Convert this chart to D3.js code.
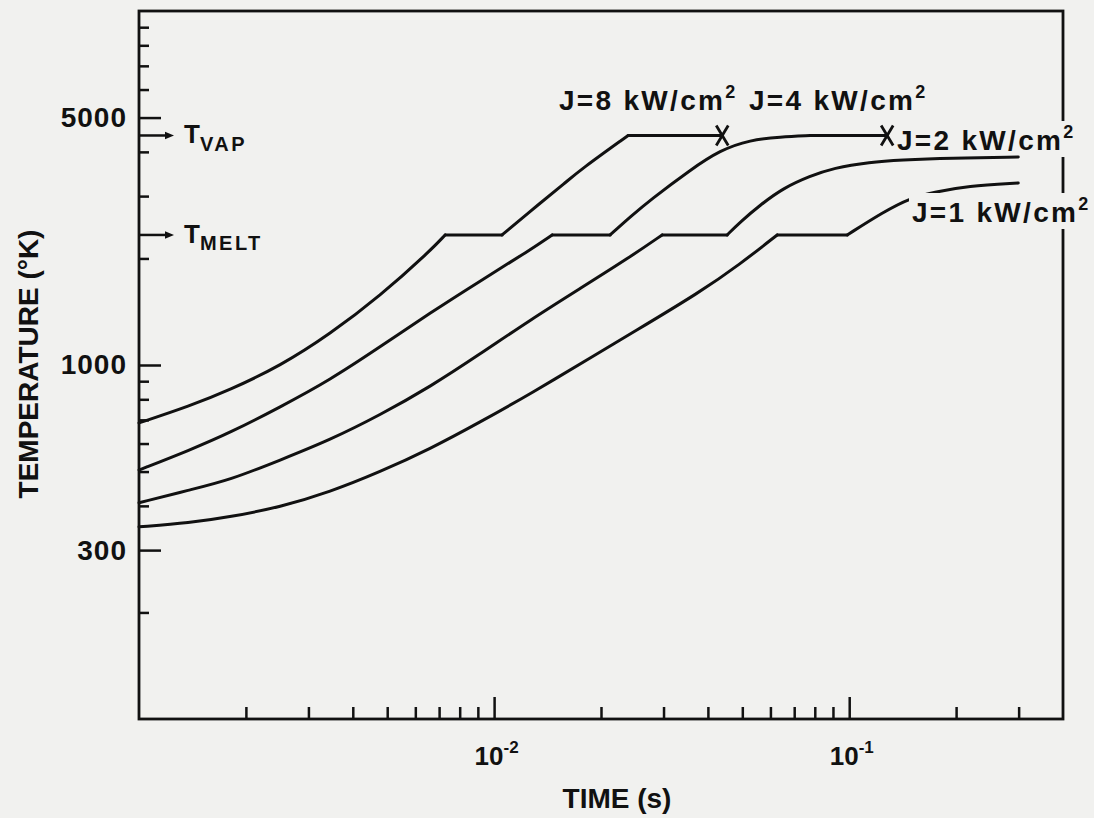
<!DOCTYPE html>
<html><head><meta charset="utf-8">
<script src="https://cdn.jsdelivr.net/npm/d3@7"></script>
<style>
html,body{margin:0;padding:0;background:#f1f1ef;}
svg{display:block;font-family:"Liberation Sans",Arial,Helvetica,sans-serif;font-weight:bold;}
</style></head><body>
<svg id="chart" width="1094" height="818"></svg>
<script>
// ---- data (time in s, temperature in K) ----
const T_MELT = 2330, T_VAP = 4450;
const j8Time = [0.001, 0.00139, 0.0018, 0.0025, 0.00345, 0.00477, 0.0066, 0.00728, 0.01053, 0.01348, 0.01585, 0.01747, 0.02385, 0.0439];
const j8Temp = [686, 766, 850, 994, 1223, 1566, 2099, T_MELT, T_MELT, 2868, 3268, 3555, T_VAP, T_VAP];
const j4Time = [0.001, 0.00139, 0.0018, 0.0025, 0.00345, 0.00477, 0.0066, 0.00913, 0.01263, 0.01457, 0.02122, 0.02416, 0.02751, 0.03566, 0.04331, 0.05262, 0.06392, 0.07765, 0.1279];
const j4Temp = [505, 575, 643, 761, 907, 1124, 1403, 1727, 2113, T_MELT, T_MELT, 2619, 2925, 3555, 4047, 4322, 4410, T_VAP, T_VAP];
const j2Time = [0.001, 0.00139, 0.0018, 0.0025, 0.00345, 0.00477, 0.0066, 0.00913, 0.01263, 0.01747, 0.02416, 0.02973, 0.04532, 0.04932, 0.05615, 0.06518, 0.07765, 0.09015, 0.1146, 0.1392, 0.1925, 0.2993];
const j2Temp = [408, 444, 473, 539, 614, 722, 867, 1074, 1340, 1645, 2019, T_MELT, T_MELT, 2535, 2831, 3162, 3419, 3601, 3745, 3794, 3843, 3869];
const j1Time = [0.001, 0.00139, 0.0018, 0.0025, 0.00345, 0.00477, 0.0066, 0.00913, 0.01263, 0.01989, 0.02416, 0.03804, 0.04932, 0.06269, 0.09872, 0.1247, 0.1485, 0.1747, 0.2149, 0.2993];
const j1Temp = [349, 358, 372, 397, 438, 499, 579, 690, 828, 1088, 1223, 1607, 1929, T_MELT, T_MELT, 2705, 2964, 3082, 3204, 3267];

const seriesNames = ["J=8 kW/cm", "J=4 kW/cm", "J=2 kW/cm", "J=1 kW/cm"];
const seriesSup = "2";
const xDomain = [0.001, 0.4];
const yDomain = [100, 10000];
const xMajorTicks = [0.01, 0.1];
const xMajorLabels = [["10", "-2"], ["10", "-1"]];
const xMinorTicks = [0.002,0.003,0.004,0.005,0.006,0.007,0.008,0.009,0.02,0.03,0.04,0.05,0.06,0.07,0.08,0.09,0.2,0.3];
const yMajorTicks = [300, 1000, 5000];
const yMinorTicks = [200,400,500,600,700,800,900,2000,3000,4000,6000,7000,8000,9000];
const xTitle = "TIME (s)";
const yTitle = "TEMPERATURE (°K)";
const refLabels = [["T","VAP"],["T","MELT"]];

// ---- layout ----
const INK = "#111";
const BG = "#f1f1ef";
const L = 139, R = 1063, TOP = 11, BOT = 719;
const svg = d3.select("#chart");
const x = d3.scaleLog().domain(xDomain).range([L, R]);
const y = d3.scaleLog().domain(yDomain).range([BOT, TOP]);

// frame
svg.append("rect").attr("x", L).attr("y", TOP).attr("width", R - L).attr("height", BOT - TOP)
  .attr("fill", "none").attr("stroke", INK).attr("stroke-width", 2.8);

function styleAxis(g){
  g.select(".domain").remove();
  g.attr("color", INK);
  g.selectAll("line").attr("stroke-width", 2.5);
  g.selectAll("text").attr("font-family", null).attr("font-size", null);
  g.attr("font-family", null).attr("font-size", null);
}
// x axis
svg.append("g").attr("transform", `translate(0,${BOT})`)
  .call(d3.axisBottom(x).tickValues(xMinorTicks).tickSize(-12).tickFormat("")).call(styleAxis);
const xMaj = svg.append("g").attr("transform", `translate(0,${BOT})`)
  .call(d3.axisBottom(x).tickValues(xMajorTicks).tickSize(-22).tickFormat("")).call(styleAxis);
xMaj.selectAll(".tick").each(function(d, i){
  const t = d3.select(this).append("text").attr("fill", INK).attr("y", 46)
    .attr("x", -20).attr("text-anchor", "start").attr("font-size", 26).attr("dy", 0);
  t.append("tspan").text(xMajorLabels[i][0]);
  t.append("tspan").attr("font-size", 17).attr("dy", -12).text(xMajorLabels[i][1]);
});
// y axis
svg.append("g").attr("transform", `translate(${L},0)`)
  .call(d3.axisLeft(y).tickValues(yMinorTicks).tickSize(-10).tickFormat("")).call(styleAxis);
svg.append("g").attr("transform", `translate(${L},0)`)
  .call(d3.axisLeft(y).tickValues(yMajorTicks).tickSize(-22).tickPadding(12).tickFormat(d3.format("d")))
  .call(styleAxis)
  .call(g => g.selectAll("text").attr("font-size", 28).attr("letter-spacing", 1).attr("fill", INK));

// axis titles
svg.append("text").attr("x", 617).attr("y", 808).attr("text-anchor", "middle")
  .attr("font-size", 28).attr("fill", INK).text(xTitle);
svg.append("text").attr("transform", "translate(38,364) rotate(-90)").attr("text-anchor", "middle")
  .attr("font-size", 28).attr("fill", INK).text(yTitle);

// reference temperature arrows
[T_VAP, T_MELT].forEach((T, i) => {
  const yy = y(T);
  svg.append("line").attr("x1", L).attr("x2", L + 27).attr("y1", yy).attr("y2", yy)
    .attr("stroke", INK).attr("stroke-width", 2.5);
  svg.append("path").attr("d", `M${L+26},${yy-3.8}L${L+35},${yy}L${L+26},${yy+3.8}Z`).attr("fill", INK);
  const t = svg.append("text").attr("x", L + 45).attr("y", yy + 8).attr("fill", INK).attr("font-size", 26);
  t.append("tspan").text(refLabels[i][0]);
  t.append("tspan").attr("font-size", 20).attr("dy", 7.5).attr("letter-spacing", 2.5).text(refLabels[i][1]);
});

// curves
const series = [[j8Time, j8Temp], [j4Time, j4Temp], [j2Time, j2Temp], [j1Time, j1Temp]];
const line = d3.line().x(d => x(d[0])).y(d => y(d[1])).curve(d3.curveBasis);
series.forEach(([ts, Ts]) => {
  const pts = ts.map((t, i) => [t, Ts[i]]);
  const pieces = [];
  let start = 0;
  for (let i = 0; i < pts.length - 1; i++) {
    if (pts[i][1] === pts[i+1][1]) {
      if (i > start) pieces.push(pts.slice(start, i + 1));
      pieces.push(pts.slice(i, i + 2));
      start = i + 1;
    }
  }
  if (start < pts.length - 1) pieces.push(pts.slice(start));
  pieces.forEach(p => svg.append("path").attr("d", line(p)).attr("fill", "none")
    .attr("stroke", INK).attr("stroke-width", 3).attr("stroke-linecap", "round").attr("stroke-linejoin", "round"));
});

// X markers at the end of the J=8 and J=4 curves
[[j8Time, j8Temp], [j4Time, j4Temp]].forEach(([ts, Ts]) => {
  const cx = x(ts[ts.length - 1]), cy = y(Ts[Ts.length - 1]);
  svg.append("path").attr("d", `M${cx-6},${cy-10}L${cx+6},${cy+10}M${cx+6},${cy-10}L${cx-6},${cy+10}`)
    .attr("stroke", INK).attr("stroke-width", 2.8).attr("fill", "none");
});

// series labels
const labelPos = [[559, 110, false], [749, 110, false], [897, 150, true], [912, 222, true]];
seriesNames.forEach((name, i) => {
  const [lx, ly, mask] = labelPos[i];
  const g = svg.append("g");
  const t = g.append("text").attr("x", lx).attr("y", ly).attr("fill", INK)
    .attr("font-size", 28).attr("letter-spacing", 2.3);
  t.append("tspan").text(name);
  t.append("tspan").attr("font-size", 18).attr("dy", -12).text(seriesSup);
  if (mask) {
    const b = t.node().getBBox();
    const full = i === 3;
    g.insert("rect", "text")
      .attr("x", full ? b.x - 3 : R - 7).attr("width", full ? b.width + 6 : 14)
      .attr("y", b.y - 1).attr("height", b.height + 2).attr("fill", BG);
  }
});
</script>
</body></html>
